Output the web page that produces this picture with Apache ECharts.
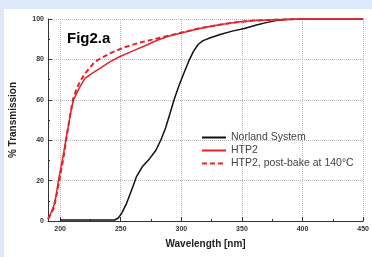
<!DOCTYPE html>
<html>
<head>
<meta charset="utf-8">
<script src="https://cdn.jsdelivr.net/npm/echarts@6/dist/echarts.min.js"></script>
<style>
  html, body { margin: 0; padding: 0; background: #dde9fa; }
  #main { width: 372px; height: 257px; }
</style>
</head>
<body>
<div id="main"></div>
<script>
// wavelength [nm] / % transmission
var norlandX = [200, 245, 248, 251, 255, 260, 263, 268, 274, 279, 283, 287, 291, 294, 298, 302, 306, 310, 314, 318, 324, 332, 342, 352, 362, 370, 378, 386, 400, 450];
var norlandY = [0.5, 0.5, 1.5, 4, 9, 17, 22, 27, 31, 35, 40, 46, 54, 60, 67, 73, 79, 84, 87.5, 89.3, 90.7, 92.3, 94, 95.3, 97, 98.2, 99.2, 99.8, 100, 100];

var htpX = [190, 192, 194.5, 196.5, 198.6, 200.5, 202.7, 204.7, 206.5, 208.5, 211, 215.5, 220.5, 226, 232.8, 241, 249, 261.5, 271, 280, 290, 302.5, 315, 330, 346.7, 360, 371, 385, 400, 450];
var htpY = [1, 3.5, 7, 12, 20, 26, 33, 40, 46, 53, 60, 65.5, 70.6, 73, 75.6, 78.8, 81.3, 84.6, 87, 89.5, 91.6, 93.4, 95.3, 97, 98.5, 99.2, 99.5, 99.8, 100, 100];

var bakeX = [190, 192, 194.5, 196.5, 198.6, 200.5, 202.7, 204.7, 206.5, 208.5, 210.5, 213, 216, 220.5, 228.7, 241, 253, 265, 276, 290, 302.5, 315, 330, 346.7, 360, 371, 385, 400, 450];
var bakeY = [1, 3, 6, 11, 18, 24, 31, 39, 46, 53, 60, 64.5, 68.5, 73, 78.9, 83, 86, 88.2, 89.8, 91.8, 93.6, 95.4, 97, 98.5, 99.2, 99.5, 99.8, 100, 100];

var xLabelValues = [200, 250, 300, 350, 400, 450];
var xMinorValues = [225, 275, 325, 375, 425];

function pairs(xs, ys) {
  return xs.map(function (x, i) { return [x, ys[i]]; });
}

var myChart = echarts.init(document.getElementById('main'));
var tickFont = { fontFamily: 'Liberation Sans', fontSize: 7, fontWeight: 'bold', color: '#333' };
var option = {
  backgroundColor: 'transparent',
  animation: false,
  graphic: [{
    type: 'rect', left: 4, top: 9, z: -10,
    shape: { width: 368, height: 248 },
    style: { fill: '#ffffff' }
  }],
  title: {
    text: 'Fig2.a', left: 62, top: 26,
    textStyle: { fontFamily: 'Liberation Sans', fontSize: 15, fontWeight: 'bold', color: '#000' }
  },
  legend: {
    orient: 'vertical', left: 196, top: 127, itemWidth: 24, itemHeight: 10, itemGap: 2,
    itemStyle: { opacity: 0 },
    textStyle: { fontFamily: 'Liberation Sans', fontSize: 10.5, color: '#444' },
    data: ['Norland System', 'HTP2', 'HTP2, post-bake at 140°C']
  },
  grid: { left: 47, right: 6, top: 19, bottom: 36 },
  xAxis: [{
    type: 'value', min: 190, max: 450,
    name: 'Wavelength [nm]', nameLocation: 'middle', nameGap: 18,
    nameTextStyle: { fontFamily: 'Liberation Sans', fontSize: 10, fontWeight: 'bold', color: '#222' },
    axisLine: { lineStyle: { color: '#333', width: 1 } },
    axisTick: { inside: true, length: 4, customValues: xLabelValues, lineStyle: { color: '#333' } },
    axisLabel: Object.assign({ customValues: xLabelValues, margin: 5 }, tickFont),
    splitLine: { show: true, lineStyle: { color: '#b8b8b8', type: 'dotted' } }
  }, {
    type: 'value', min: 190, max: 450, position: 'bottom',
    axisLine: { show: false },
    axisTick: { inside: true, length: 2, customValues: xMinorValues, lineStyle: { color: '#333' } },
    axisLabel: { show: false },
    splitLine: { show: false }
  }],
  yAxis: {
    type: 'value', min: 0, max: 100, interval: 20,
    name: '% Transmission', nameLocation: 'middle', nameGap: 30,
    nameTextStyle: { fontFamily: 'Liberation Sans', fontSize: 10, fontWeight: 'bold', color: '#222' },
    axisLine: { show: true, lineStyle: { color: '#333', width: 1 } },
    axisTick: { show: true, inside: true, length: 4, lineStyle: { color: '#333' } },
    minorTick: { show: true, splitNumber: 2, length: 2, lineStyle: { color: '#333' } },
    axisLabel: Object.assign({ margin: 4 }, tickFont),
    splitLine: { show: true, lineStyle: { color: '#b8b8b8', type: 'dotted' } }
  },
  series: [{
    name: 'Norland System', type: 'line', symbol: 'none',
    lineStyle: { color: '#111', width: 1.5 }, itemStyle: { color: '#111' },
    data: pairs(norlandX, norlandY)
  }, {
    name: 'HTP2', type: 'line', symbol: 'none',
    lineStyle: { color: '#e3242b', width: 1.5 }, itemStyle: { color: '#e3242b' },
    data: pairs(htpX, htpY)
  }, {
    name: 'HTP2, post-bake at 140°C', type: 'line', symbol: 'none',
    lineStyle: { color: '#e3242b', width: 2, type: [5, 3] }, itemStyle: { color: '#e3242b' },
    data: pairs(bakeX, bakeY)
  }]
};
myChart.setOption(option);
</script>
</body>
</html>
